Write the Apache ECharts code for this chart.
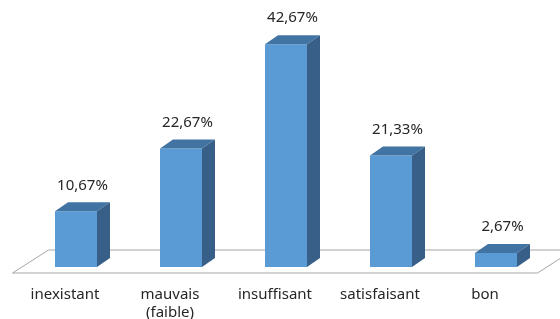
<!DOCTYPE html>
<html>
<head>
<meta charset="UTF-8" />
<script src="https://cdn.jsdelivr.net/npm/echarts@6/dist/echarts.min.js"></script>
<style>
  html, body { margin: 0; padding: 0; background: #fff; }
  #chart { width: 560px; height: 319px; }
</style>
</head>
<body>
<div id="chart"></div>
<script>
const categories = ['inexistant', 'mauvais\n(faible)', 'insuffisant', 'satisfaisant', 'bon'];
const values = [10.67, 22.67, 42.67, 21.33, 2.67];

const DX = 13, DY = -9; // bar depth
const FRONT = '#5b9bd5', TOP = '#4274a3', SIDE = '#375f88';
const FONT = 'Noto Sans';

function pct(v) {
  return v.toFixed(2).replace('.', ',') + '%';
}

function renderBar(params, api) {
  const idx = api.value(0);
  const v = api.value(1);
  const base = api.coord([idx, 0]);
  const top = api.coord([idx, v]);
  const bw = api.size([1, 0])[0] * 0.4;
  const l = base[0] - bw / 2, r = base[0] + bw / 2;
  const ty = top[1], by = base[1];
  return {
    type: 'group',
    children: [
      { type: 'rect', shape: { x: l, y: ty, width: bw, height: by - ty }, style: { fill: FRONT } },
      { type: 'polygon', shape: { points: [[l, ty], [r, ty], [r + DX, ty + DY], [l + DX, ty + DY]] }, style: { fill: TOP } },
      { type: 'polygon', shape: { points: [[r, ty], [r + DX, ty + DY], [r + DX, by + DY], [r, by]] }, style: { fill: SIDE } },
      {
        type: 'text',
        style: {
          text: pct(v), x: base[0] + DX / 2, y: ty + DY - 17,
          align: 'center', verticalAlign: 'middle',
          font: '15px "' + FONT + '"', fill: '#262626'
        }
      }
    ]
  };
}

function renderFloor(params, api) {
  const cs = params.coordSys;
  const y0 = api.coord([0, 0])[1];
  const front = y0 + 6, back = y0 - 17;
  const left = cs.x - 11, right = cs.x + cs.width - 11;
  return {
    type: 'polygon',
    shape: { points: [[left, front], [right, front], [right + 36, back], [left + 36, back]] },
    style: { fill: '#fff', stroke: '#a6a6a6', lineWidth: 1 }
  };
}

const chart = echarts.init(document.getElementById('chart'));
chart.setOption({
  animation: false,
  grid: { left: 23.5, right: 11.5, top: 32, bottom: 52, containLabel: false, outerBoundsMode: 'none' },
  xAxis: {
    type: 'category',
    data: categories,
    axisLine: { show: false },
    axisTick: { show: false },
    axisLabel: {
      margin: 19,
      padding: [0, 22, 0, 0],
      fontFamily: FONT,
      fontSize: 15,
      lineHeight: 18,
      color: '#262626'
    }
  },
  yAxis: { type: 'value', min: 0, max: 45, show: false, splitLine: { show: false } },
  series: [
    {
      type: 'custom',
      renderItem: renderFloor,
      data: [[0, 0]],
      silent: true,
      z: 1
    },
    {
      type: 'custom',
      renderItem: renderBar,
      data: values.map((v, i) => [i, v]),
      z: 2
    }
  ]
});
</script>
</body>
</html>
